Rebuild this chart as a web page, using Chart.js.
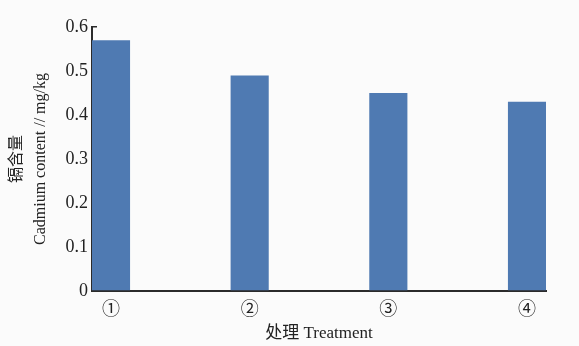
<!DOCTYPE html>
<html>
<head>
<meta charset="utf-8">
<script src="https://cdn.jsdelivr.net/npm/chart.js@4"></script>
<style>
  html, body { margin: 0; padding: 0; background: #fbfbfb; }
  #wrap { width: 579px; height: 346px; }
</style>
</head>
<body>
<div id="wrap"><canvas id="bar-chart" width="579" height="346"></canvas></div>
<script>
var treatments = ["①", "②", "③", "④"];
var cadmium = [0.57, 0.49, 0.45, 0.43];
var yTicks = [0, 0.1, 0.2, 0.3, 0.4, 0.5, 0.6];

var barColor = "#4f7ab2";
var axisColor = "#2b2b2b";
var fontFamily = "'Liberation Serif', 'Noto Sans CJK SC', serif";

var points = cadmium.map(function(v, i) { return { x: i, y: v }; });

new Chart(document.getElementById("bar-chart"), {
  type: "bar",
  data: {
    datasets: [{
      data: points,
      backgroundColor: barColor,
      borderWidth: 0,
      categoryPercentage: 1,
      barPercentage: 0.275
    }]
  },
  options: {
    responsive: false,
    animation: false,
    layout: { padding: { top: 27, right: 33, left: 5, bottom: 0 } },
    plugins: {
      legend: { display: false },
      tooltip: { enabled: false }
    },
    scales: {
      x: {
        type: "linear",
        offset: false,
        min: -0.137,
        max: 3.137,
        grid: { display: false },
        border: { display: true, color: axisColor, width: 2 },
        ticks: {
          stepSize: 1,
          includeBounds: false,
          padding: 0,
          color: "#222",
          font: { family: fontFamily, size: 18 },
          callback: function(value) { return treatments[value]; }
        },
        title: {
          display: true,
          text: "处理 Treatment",
          color: "#222",
          font: { family: fontFamily, size: 17 },
          padding: { top: 10, bottom: 2 }
        },
        afterFit: function(scale) { scale.height = 55; }
      },
      y: {
        min: 0,
        max: 0.6,
        afterBuildTicks: function(scale) {
          scale.ticks = yTicks.map(function(v) { return { value: v }; });
        },
        grid: { drawOnChartArea: false, tickLength: -5, color: axisColor, lineWidth: 1.5 },
        border: { display: true, color: axisColor, width: 2 },
        ticks: {
          padding: 9,
          color: "#222",
          font: { family: fontFamily, size: 18 },
          callback: function(value) { return value === 0 ? "0" : value.toFixed(1); }
        },
        title: {
          display: true,
          text: ["镉含量", "Cadmium content // mg/kg"],
          color: "#222",
          font: { family: fontFamily, size: 16, lineHeight: 1.5 },
          padding: 0
        },
        afterFit: function(scale) { scale.width = 87; }
      }
    }
  }
});
</script>
</body>
</html>
